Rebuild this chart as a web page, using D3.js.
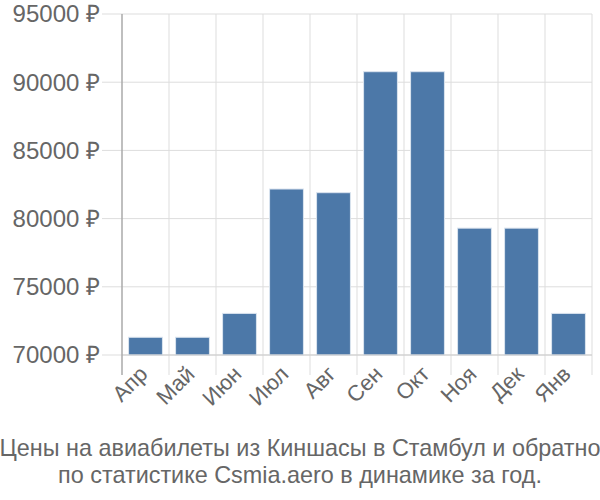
<!DOCTYPE html>
<html>
<head>
<meta charset="utf-8">
<script src="https://cdn.jsdelivr.net/npm/d3@7"></script>
<style>
  body { margin: 0; background: #fff; }
  text { font-family: "Liberation Sans", Arial, sans-serif; fill: #666; }
</style>
</head>
<body>
<div id="chart"></div>
<script>
// Data
const months = ['Апр', 'Май', 'Июн', 'Июл', 'Авг', 'Сен', 'Окт', 'Ноя', 'Дек', 'Янв'];
const prices = [71300, 71300, 73050, 82170, 81900, 90770, 90770, 79300, 79300, 73050];
const yTicks = [70000, 75000, 80000, 85000, 90000, 95000];
const titleLines = [
    'Цены на авиабилеты из Киншасы в Стамбул и обратно',
    'по статистике Csmia.aero в динамике за год.'
];

const W = 600, H = 500;
const margin = { top: 14, right: 8, bottom: 145, left: 122 };
const width = W - margin.left - margin.right;
const height = H - margin.top - margin.bottom;

const svg = d3.select('#chart')
    .append('svg')
    .attr('width', W)
    .attr('height', H);

const g = svg.append('g')
    .attr('transform', `translate(${margin.left},${margin.top})`);

const x = d3.scaleBand()
    .domain(months)
    .range([0, width])
    .padding(0);

const y = d3.scaleLinear()
    .domain([70000, 95000])
    .range([height, 0]);

// horizontal grid + left ticks
g.selectAll('.hgrid')
    .data(yTicks)
    .enter()
    .append('line')
    .attr('x1', -20)
    .attr('x2', width)
    .attr('y1', d => y(d))
    .attr('y2', d => y(d))
    .attr('stroke', '#ddd')
    .attr('stroke-width', 1);

// vertical grid at band edges
const edges = months.map(m => x(m)).concat([width]);
g.selectAll('.vgrid')
    .data(edges.slice(1))
    .enter()
    .append('line')
    .attr('x1', d => d)
    .attr('x2', d => d)
    .attr('y1', 0)
    .attr('y2', height + 20)
    .attr('stroke', '#ddd')
    .attr('stroke-width', 1);

// y labels
g.selectAll('.ylab')
    .data(yTicks)
    .enter()
    .append('text')
    .attr('x', -22)
    .attr('y', d => y(d))
    .attr('dy', '0.35em')
    .attr('text-anchor', 'end')
    .style('font-size', '24px')
    .text(d => d + ' ₽');

// bars
const barW = x.bandwidth() * 0.72;
g.selectAll('rect')
    .data(prices)
    .enter()
    .append('rect')
    .attr('x', (d, i) => x(months[i]) + (x.bandwidth() - barW) / 2)
    .attr('y', d => y(d))
    .attr('width', barW)
    .attr('height', d => height - y(d))
    .attr('fill', '#4c78a8')
    .attr('stroke', '#dbe4ef')
    .attr('stroke-width', 1);

// axes lines
g.append('line')
    .attr('x1', 0).attr('x2', width)
    .attr('y1', height).attr('y2', height)
    .attr('stroke', '#ccc');
g.append('line')
    .attr('x1', 0).attr('x2', 0)
    .attr('y1', 0).attr('y2', height + 20)
    .attr('stroke', '#aaa')
    .attr('stroke-width', 1.5);

// x labels
g.selectAll('.xlab')
    .data(months)
    .enter()
    .append('text')
    .attr('text-anchor', 'end')
    .attr('transform', d => `translate(${x(d) + x.bandwidth() / 2 - 2},${height + 15}) rotate(-45)`)
    .attr('dy', '0.35em')
    .style('font-size', '22px')
    .text(d => d);

// title
svg.selectAll('.title')
    .data(titleLines)
    .enter()
    .append('text')
    .attr('x', W / 2)
    .attr('y', (d, i) => 456 + i * 27)
    .attr('text-anchor', 'middle')
    .style('font-size', '23.4px')
    .text(d => d);
</script>
</body>
</html>
